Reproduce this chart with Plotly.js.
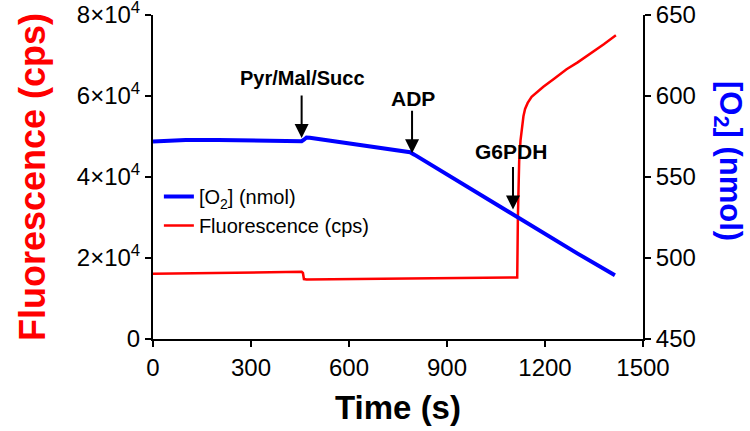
<!DOCTYPE html>
<html>
<head>
<meta charset="utf-8">
<script src="https://cdn.plot.ly/plotly-3.0.1.min.js"></script>
<style>
  html, body { margin: 0; padding: 0; background: #fff; }
  #chart { width: 750px; height: 431px; }
</style>
</head>
<body>
<div id="chart"></div>
<script>
/* ── DATA ────────────────────────────────── */
const o2Time = [0, 50, 100, 200, 300, 400, 455, 462, 470, 480, 600, 700, 787, 800, 900, 1000, 1117, 1200, 1300, 1414];
const o2Nmol = [571.9, 572.4, 572.8, 572.8, 572.6, 572.3, 572.1, 573.0, 574.4, 574.2, 570.7, 567.8, 565.3, 563.8, 551.5, 539.3, 525.0, 514.9, 502.7, 489.3];

const flTime = [0, 100, 200, 300, 400, 455, 459, 462, 470, 600, 800, 1000, 1110, 1115, 1117, 1119, 1121, 1125,
  1129, 1134, 1139, 1147, 1159, 1175, 1195, 1230, 1266, 1300, 1338, 1380, 1417];
const flCps = [16100, 16200, 16300, 16400, 16500, 16600, 16300, 14800, 14700, 14800, 14900, 15000, 15100, 15200,
  30000, 38000, 44000, 49000, 52000, 55000, 56800, 58300, 59800, 61000, 62300, 64400, 66600, 68300, 70400, 72800, 75000];

const xTicks = [0, 300, 600, 900, 1200, 1500];
const leftTicks = [0, 20000, 40000, 60000, 80000];
const leftTickText = ['0', '2×10<sup>4</sup>', '4×10<sup>4</sup>', '6×10<sup>4</sup>', '8×10<sup>4</sup>'];
const rightTicks = [450, 500, 550, 600, 650];

// arrows: [label, time, tip O2 value]
const markers = [
  ['Pyr/Mal/Succ', 455, 574.1],
  ['ADP', 793, 564.7],
  ['G6PDH', 1102, 530.0],
];

/* ── STYLE ───────────────────────────────── */
const FONT = 'Liberation Sans, Arial, sans-serif';
const BLUE = 'rgb(0,0,255)';
const RED = 'rgb(255,0,0)';

const traces = [
  {
    type: 'scatter', mode: 'lines', name: '[O<sub>2</sub>] (nmol)',
    x: o2Time, y: o2Nmol, yaxis: 'y2',
    line: { color: BLUE, width: 4 },
  },
  {
    type: 'scatter', mode: 'lines', name: 'Fluorescence (cps)',
    x: flTime, y: flCps, yaxis: 'y',
    line: { color: RED, width: 2.5 },
  },
];

const axisBase = {
  showgrid: false, zeroline: false,
  showline: true, linecolor: '#000', linewidth: 2,
  ticks: 'outside', ticklen: 6, tickwidth: 2, tickcolor: '#000',
  tickfont: { family: FONT, size: 24, color: '#000' },
  ticklabeloverflow: 'allow',
};

const annotations = [];
for (const [label, t, tip] of markers) {
  annotations.push({
    x: t, y: tip, xref: 'x', yref: 'y2', text: '',
    showarrow: true, arrowhead: 2, arrowsize: 1.4, arrowwidth: 2, arrowcolor: '#000',
    ax: 0, ay: -44,
  });
}
const boldLabel = size => ({ family: FONT, size, color: '#000', weight: 'bold' });
annotations.push(
  { x: 459, y: 611.3, xref: 'x', yref: 'y2', text: 'Pyr/Mal/Succ', showarrow: false, font: boldLabel(20) },
  { x: 796, y: 598.5, xref: 'x', yref: 'y2', text: 'ADP', showarrow: false, font: boldLabel(21) },
  { x: 1096, y: 566, xref: 'x', yref: 'y2', text: 'G6PDH', showarrow: false, font: boldLabel(21) },
);
// right axis title sits higher than centre, so place it by pixels
annotations.push({
  xref: 'paper', yref: 'paper', x: (728 - 153) / 490, y: (339 - 161) / 324,
  xanchor: 'center', yanchor: 'middle',
  text: '[O<sub>2</sub>] (nmol)', textangle: 90, showarrow: false,
  font: { family: FONT, size: 31, color: BLUE, weight: 'bold' },
});

const layout = {
  width: 750, height: 431,
  paper_bgcolor: '#fff', plot_bgcolor: '#fff',
  font: { family: FONT, color: '#000' },
  margin: { l: 153, r: 107, t: 15, b: 92 },
  xaxis: {
    ...axisBase, range: [0, 1500], tickvals: xTicks,
    title: { text: 'Time (s)', font: { family: FONT, size: 33, color: '#000', weight: 'bold' }, standoff: 16 },
  },
  yaxis: {
    ...axisBase, range: [0, 80000], tickvals: leftTicks, ticktext: leftTickText,
    title: { text: 'Fluorescence (cps)', font: { family: FONT, size: 36, color: RED, weight: 'bold' }, standoff: 20 },
  },
  yaxis2: {
    ...axisBase, range: [450, 650], tickvals: rightTicks,
    overlaying: 'y', side: 'right', anchor: 'x',
  },
  showlegend: true,
  legend: {
    x: 0.012, y: 0.5, xanchor: 'left', yanchor: 'top',
    bgcolor: 'rgba(0,0,0,0)', borderwidth: 0,
    font: { family: FONT, size: 20, color: '#000' },
  },
  annotations,
};

Plotly.newPlot('chart', traces, layout, { displayModeBar: false, staticPlot: true });
</script>
</body>
</html>
